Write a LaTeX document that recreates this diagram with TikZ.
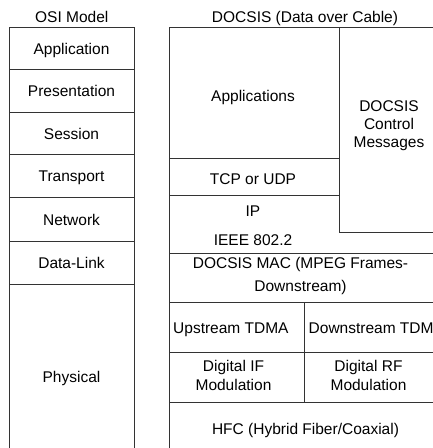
\documentclass[tikz,border=0pt]{standalone}
\usepackage{fontspec}
\setmainfont{Liberation Sans}
\begin{document}
\begin{tikzpicture}[x=1bp,y=-1bp,
  rule/.style={draw=black!80,line width=1bp},
  lbl/.style={inner sep=0pt,anchor=base,font=\fontsize{15.5bp}{18bp}\selectfont},
  lblw/.style={lbl,anchor=base west}]
\useasboundingbox (0,0) rectangle (432,448);
% OSI column
\draw[rule] (9,470) -- (9,28) -- (134,28) -- (134,470);
\foreach \y in {70,113,155,198,241,284} \draw[rule] (9,\y) -- (134,\y);
% DOCSIS column
\draw[rule] (169,470) -- (169,28) -- (440,28);
\draw[rule] (339,28) -- (339,232) -- (440,232);
\draw[rule] (169,159) -- (339,159);
\draw[rule] (169,196) -- (339,196);
\foreach \y in {253,302,352,402} \draw[rule] (169,\y) -- (440,\y);
\draw[rule] (304,302) -- (304,402);
% titles
\node[lbl] (tosi) at (71.8,23) {OSI Model};
\node[lbl] (tdoc) at (305,23) {DOCSIS (Data over Cable)};
% OSI layers
\node[lbl] (app) at (71.5,54.5) {Application};
\node[lbl] (pres) at (71.5,97) {Presentation};
\node[lbl] (sess) at (71.5,139.5) {Session};
\node[lbl] (trans) at (71.5,182) {Transport};
\node[lbl] (net) at (71.5,225) {Network};
\node[lbl] (dl) at (71.5,268) {Data-Link};
\node[lbl] (phy) at (71.5,382) {Physical};
% DOCSIS layers
\node[lbl] (apps) at (253,102) {Applications};
\node[lbl] (tcp) at (253,185) {TCP or UDP};
\node[lbl] (ip) at (253,217) {IP};
\node[lbl] (llc) at (253,245) {IEEE 802.2};
\node[lbl] (ctl1) at (389,112) {DOCSIS};
\node[lbl] (ctl2) at (389,130) {Control};
\node[lbl] (ctl3) at (389,148) {Messages};
\node[lbl] (mac1) at (300.5,268) {DOCSIS MAC (MPEG Frames-};
\node[lbl] (mac2) at (300.5,291) {Downstream)};
\node[lblw] (up) at (173,333) {Upstream TDMA};
\node[lblw] (down) at (308.5,333) {Downstream TDMA};
\node[lbl] (dif1) at (233.5,371.5) {Digital IF};
\node[lbl] (dif2) at (233.5,390.5) {Modulation};
\node[lbl] (drf1) at (368.5,371.5) {Digital RF};
\node[lbl] (drf2) at (368.5,390.5) {Modulation};
\node[lbl] (hfc) at (305.5,434) {HFC (Hybrid Fiber/Coaxial)};
\end{tikzpicture}
\end{document}
